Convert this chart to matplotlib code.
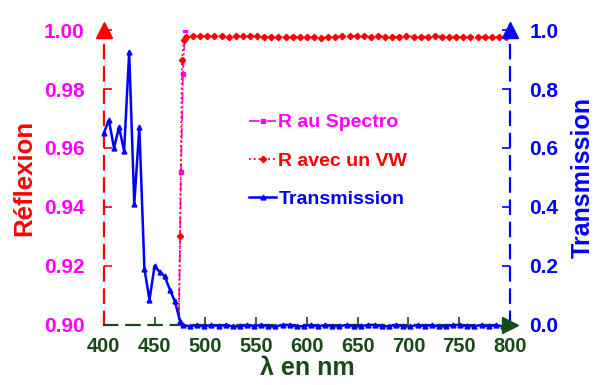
import numpy as np
import matplotlib.pyplot as plt

plt.rcParams['font.family'] = ['Liberation Sans', 'DejaVu Sans']
plt.rcParams['font.weight'] = 'bold'

# Transmission (right axis)
wl_t = [400, 405, 410, 415, 420, 425, 430, 435, 440, 445, 450, 455, 460, 465,
        470, 475, 478] + list(range(485, 801, 7))
trans = [0.65, 0.695, 0.60, 0.67, 0.59, 0.925, 0.41, 0.67, 0.19, 0.085,
         0.20, 0.18, 0.165, 0.12, 0.08, 0.015, 0.0] + \
        [-0.005, 0.0, -0.005, 0.0, -0.004, 0.0, -0.005, -0.005, 0.0, -0.004,
         0.0, -0.005, -0.005, 0.0, 0.0, -0.005, -0.004, 0.0, -0.005, 0.0,
         -0.005, -0.004, 0.0, -0.005, -0.005, 0.0, 0.0, -0.005, -0.004, 0.0,
         -0.005, -0.005, 0.0, -0.004, 0.0, -0.005, -0.005, 0.0, 0.0, -0.005,
         -0.004, 0.0, -0.005, 0.0, -0.005, 0.0][:len(range(485, 801, 7))]

# R au Spectro (left axis)
wl_spec = [472, 476, 478, 480]
r_spec = [0.85, 0.952, 0.985, 1.0]

# R avec un VW (left axis)
wl_vw = [472, 475, 477, 479, 481] + list(range(488, 801, 7))
r_vw = [0.86, 0.93, 0.99, 0.9965, 0.9978] + \
       [0.9979, 0.998, 0.9981, 0.998, 0.9979, 0.9978, 0.9979, 0.998, 0.998,
        0.9979, 0.9978, 0.9977, 0.9976, 0.9977, 0.9978, 0.9978, 0.9977,
        0.9976, 0.9973, 0.9976, 0.9978, 0.9979, 0.9979, 0.998, 0.9979,
        0.9978, 0.9979, 0.9978, 0.9977, 0.9978, 0.9979, 0.9978, 0.9977,
        0.9978, 0.9979, 0.9978, 0.9977, 0.9978, 0.9978, 0.9977, 0.9978,
        0.9977, 0.9976, 0.9977, 0.9978][:len(range(488, 801, 7))]

red = '#ff0000'
mag = '#ff00ff'
blue = '#0000ff'
dgreen = '#174a17'

fig = plt.figure(figsize=(6, 3.85), dpi=100)
ax = fig.add_axes([0.173, 0.156, 0.677, 0.766])
ax2 = ax.twinx()

l1, = ax.plot(wl_spec, r_spec, color=mag, ls='-.', lw=1.2, marker='s', ms=3,
              label='R au Spectro')
l2, = ax.plot(wl_vw, r_vw, color=red, ls=':', lw=1.3, marker='D', ms=3.2,
              label='R avec un VW')
l3, = ax2.plot(wl_t, trans, color=blue, ls='-', lw=1.8, marker='^', ms=3.5,
               label='Transmission', clip_on=False)

ax.set_xlim(400, 800)
ax.set_ylim(0.90, 1.00)
ax2.set_ylim(0.0, 1.0)
ax.set_xticks(np.arange(400, 801, 50))
ax.set_yticks(np.arange(0.90, 1.001, 0.02))
ax2.set_yticks(np.arange(0.0, 1.01, 0.2))
ax.set_yticklabels(['%.2f' % v for v in np.arange(0.90, 1.001, 0.02)])
ax2.set_yticklabels(['%.1f' % v for v in np.arange(0.0, 1.01, 0.2)])

for a in (ax, ax2):
    for s in ('top', 'left', 'right', 'bottom'):
        a.spines[s].set_visible(False)

ax.spines['left'].set_visible(True)
ax.spines['left'].set_color(red)
ax.spines['left'].set_linestyle((0, (6, 4)))
ax.spines['left'].set_linewidth(1.6)
ax.spines['bottom'].set_visible(True)
ax.spines['bottom'].set_color(dgreen)
ax.spines['bottom'].set_linestyle((0, (6, 4)))
ax.spines['bottom'].set_linewidth(1.6)
ax2.spines['right'].set_visible(True)
ax2.spines['right'].set_color(blue)
ax2.spines['right'].set_linestyle((0, (6, 4)))
ax2.spines['right'].set_linewidth(1.6)

ax.tick_params(axis='y', direction='in', colors=mag, labelsize=15,
               length=6, width=1.2, pad=14)
ax.tick_params(axis='y', color=red)
ax.tick_params(axis='x', direction='in', colors=dgreen, labelsize=14.5,
               length=6, width=1.2, pad=9)
ax2.tick_params(axis='y', direction='in', colors=blue, labelsize=15,
                length=6, width=1.2, pad=14)
for lab in ax.get_xticklabels() + ax.get_yticklabels() + ax2.get_yticklabels():
    lab.set_fontweight('bold')

ax.set_ylabel('Réflexion', color=red, fontsize=18.5, fontweight='bold', labelpad=5)
ax2.set_ylabel('Transmission', color=blue, fontsize=18, fontweight='bold', labelpad=9)
ax.set_xlabel('λ en nm', color=dgreen, fontsize=18, fontweight='bold', labelpad=0)

# arrow heads on the axes
ax.plot([0], [1], marker='^', color=red, ms=11, transform=ax.transAxes,
        clip_on=False, zorder=5)
ax2.plot([1], [1], marker='^', color=blue, ms=11, transform=ax2.transAxes,
         clip_on=False, zorder=5)
ax2.plot([1], [0], marker='>', color=dgreen, ms=11, transform=ax2.transAxes,
         clip_on=False, zorder=5)

leg = ax2.legend(handles=[l1, l2, l3], loc='upper left',
                 bbox_to_anchor=(0.315, 0.775), frameon=False, fontsize=14,
                 labelspacing=1.05, handlelength=1.4, handletextpad=0.1)
for t, c in zip(leg.get_texts(), [mag, red, blue]):
    t.set_color(c)
    t.set_fontweight('bold')

fig.savefig('out.png', dpi=100)
